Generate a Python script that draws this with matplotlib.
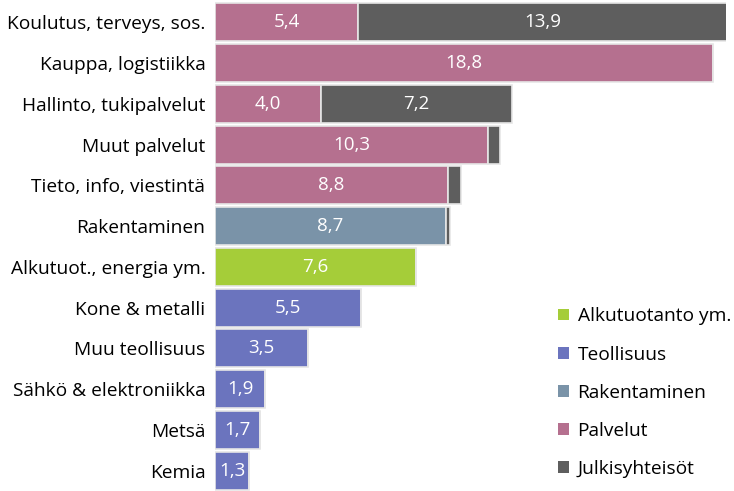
import numpy as np
import matplotlib
matplotlib.use("Agg")
import matplotlib.pyplot as plt
from matplotlib.patches import Patch

plt.rcParams['font.family'] = ['Open Sans', 'DejaVu Sans']

categories = ['Koulutus, terveys, sos.', 'Kauppa, logistiikka', 'Hallinto, tukipalvelut',
              'Muut palvelut', 'Tieto, info, viestintä', 'Rakentaminen',
              'Alkutuot., energia ym.', 'Kone & metalli', 'Muu teollisuus',
              'Sähkö & elektroniikka', 'Metsä', 'Kemia']
private_vals = [5.4, 18.8, 4.0, 10.3, 8.8, 8.7, 7.6, 5.5, 3.5, 1.9, 1.7, 1.3]
public_vals = [13.9, 0.0, 7.2, 0.45, 0.5, 0.15, 0.0, 0.0, 0.0, 0.0, 0.0, 0.0]
sector = ['Palvelut', 'Palvelut', 'Palvelut', 'Palvelut', 'Palvelut', 'Rakentaminen',
          'Alkutuotanto ym.', 'Teollisuus', 'Teollisuus', 'Teollisuus', 'Teollisuus', 'Teollisuus']
legend_labels = ['Alkutuotanto ym.', 'Teollisuus', 'Rakentaminen', 'Palvelut', 'Julkisyhteisöt']

colors = {'Alkutuotanto ym.': '#a5cd39', 'Teollisuus': '#6b74be', 'Rakentaminen': '#7a93a8',
          'Palvelut': '#b5708f', 'Julkisyhteisöt': '#5e5e5e'}

fig = plt.figure(figsize=(7.34, 4.91), dpi=100)
ax = fig.add_axes([215 / 734, 0.0, 511 / 734, 1 - 2 / 491])

y = np.arange(len(categories))
edge = '#e6e6e6'
ax.barh(y, private_vals, height=0.93, color=[colors[s] for s in sector],
        edgecolor=edge, linewidth=1.2)
ax.barh(y, public_vals, left=private_vals, height=0.93, color=colors['Julkisyhteisöt'],
        edgecolor=edge, linewidth=1.2)

def fmt(v):
    return f'{v:.1f}'.replace('.', ',')

for yi, p, g in zip(y, private_vals, public_vals):
    ax.text(p / 2, yi, fmt(p), ha='center', va='center', color='white', fontsize=13.5)
    if g >= 1:
        ax.text(p + g / 2, yi, fmt(g), ha='center', va='center', color='white', fontsize=13.5)

ax.set_yticks(y)
ax.set_yticklabels(categories, fontsize=13.8)
ax.set_ylim(len(categories) - 0.5, -0.5)
ax.set_xlim(0, 19.28)
ax.tick_params(axis='y', length=0, pad=7)
ax.set_xticks([])
for s in ax.spines.values():
    s.set_visible(False)

handles = [Patch(facecolor=colors[l], label=l) for l in legend_labels]
fig.legend(handles=handles, loc='upper left', bbox_to_anchor=(545 / 734, 1 - 294 / 491),
           frameon=False, fontsize=13.8, handlelength=0.55, handleheight=0.55,
           handletextpad=0.45, labelspacing=1.05, borderaxespad=0.3)

fig.savefig('out.png', dpi=100)
